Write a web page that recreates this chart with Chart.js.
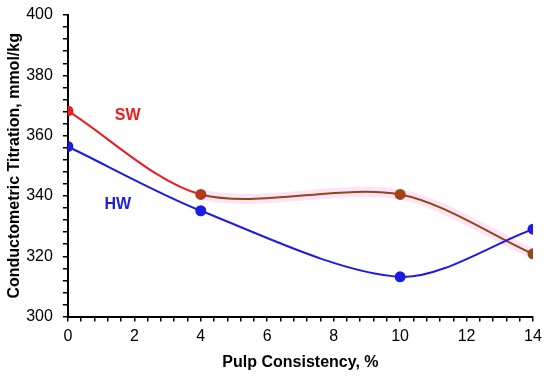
<!DOCTYPE html>
<html>
<head>
<meta charset="utf-8">
<script src="https://cdn.jsdelivr.net/npm/chart.js@4/dist/chart.umd.min.js"></script>
<style>
  html, body { margin: 0; padding: 0; background: #fff; }
  #wrap { width: 550px; height: 376px; }
</style>
</head>
<body>
<div id="wrap"><canvas id="titration-plot"></canvas></div>
<script>
// data
const consistency = [0, 4, 10, 14];
const swValues = [368.2, 340.5, 340.5, 320.8];
const hwValues = [356.4, 335.1, 313.2, 329.0];

// series labels drawn on the plot (x, y in data units)
const seriesLabels = [
    { text: 'SW', x: 1.8, y: 366.5, color: '#ee1c1c' },
    { text: 'HW', x: 1.5, y: 337.2, color: '#1c1cdc' }
];

const RED = '#ee1c1c';
const BROWN = '#8e4a14';
const BLUE = '#1c1ce6';
const swPointColors = [RED, '#b8381c', '#a8401a', BROWN];

const labelPlugin = {
    id: 'seriesLabels',
    afterDatasetsDraw(chart) {
        const ctx = chart.ctx;
        const xs = chart.scales.x, ys = chart.scales.y;
        ctx.save();
        ctx.font = 'bold 16px "Liberation Sans", Arial, sans-serif';
        ctx.textAlign = 'center';
        ctx.textBaseline = 'middle';
        seriesLabels.forEach(l => {
            ctx.fillStyle = l.color;
            ctx.fillText(l.text, xs.getPixelForValue(l.x), ys.getPixelForValue(l.y));
        });
        ctx.restore();
    }
};

function toPoints(values) {
    return consistency.map((x, i) => ({ x: x, y: values[i] }));
}

const tickFont = { family: '"Liberation Sans", Arial, sans-serif', size: 16 };
const titleFont = { family: '"Liberation Sans", Arial, sans-serif', size: 16, weight: 'bold' };
const TENSION = 0.3;

new Chart('titration-plot', {
    type: 'line',
    data: {
        datasets: [
            {
                // faint pink halo seen along the SW curve
                label: 'SW halo',
                data: toPoints(swValues),
                borderColor: 'rgba(250,200,240,0.5)',
                segment: { borderColor: c => c.p0DataIndex === 0 ? 'rgba(0,0,0,0)' : 'rgba(250,200,240,0.5)' },
                borderWidth: 10,
                pointRadius: 0,
                tension: TENSION,
                order: 3
            },
            {
                label: 'SW',
                data: toPoints(swValues),
                borderColor: BROWN,
                segment: { borderColor: c => c.p0DataIndex === 0 ? RED : BROWN },
                pointBackgroundColor: swPointColors,
                pointBorderColor: swPointColors,
                pointRadius: 4.5,
                borderWidth: 2,
                tension: TENSION,
                order: 2
            },
            {
                label: 'HW',
                data: toPoints(hwValues),
                borderColor: BLUE,
                pointBackgroundColor: BLUE,
                pointBorderColor: BLUE,
                pointRadius: 4.5,
                borderWidth: 2,
                tension: TENSION,
                order: 1
            }
        ]
    },
    options: {
        responsive: true,
        maintainAspectRatio: false,
        animation: false,
        layout: { padding: { top: 15, right: 17, bottom: 0, left: 3 } },
        plugins: {
            legend: { display: false },
            tooltip: { enabled: false }
        },
        scales: {
            x: {
                type: 'linear',
                min: 0,
                max: 14,
                border: { color: '#000', width: 2 },
                grid: { drawOnChartArea: false, color: '#000', lineWidth: 1.5, tickLength: 5 },
                ticks: {
                    stepSize: 0.4,
                    autoSkip: false,
                    maxRotation: 0,
                    color: '#000',
                    font: tickFont,
                    padding: 5.5,
                    callback: v => Math.abs(v / 2 - Math.round(v / 2)) < 1e-6 ? Math.round(v) : ''
                },
                title: { display: true, text: 'Pulp Consistency, %', color: '#000', font: titleFont, padding: { top: 1, bottom: 4 } }
            },
            y: {
                min: 300,
                max: 400,
                // top label may overhang the plot like in the original
                afterFit: scale => { scale.paddingTop = 0; },
                border: { color: '#000', width: 2 },
                grid: { drawOnChartArea: false, color: '#000', lineWidth: 1.5, tickLength: 5 },
                ticks: {
                    stepSize: 4,
                    autoSkip: false,
                    color: '#000',
                    font: tickFont,
                    padding: 10,
                    callback: v => Math.abs(v % 20) < 1e-6 ? v : ''
                },
                title: { display: true, text: 'Conductometric Titration, mmol/kg', color: '#000', font: titleFont, padding: { top: 2, bottom: -8 } }
            }
        }
    },
    plugins: [labelPlugin]
});
</script>
</body>
</html>
